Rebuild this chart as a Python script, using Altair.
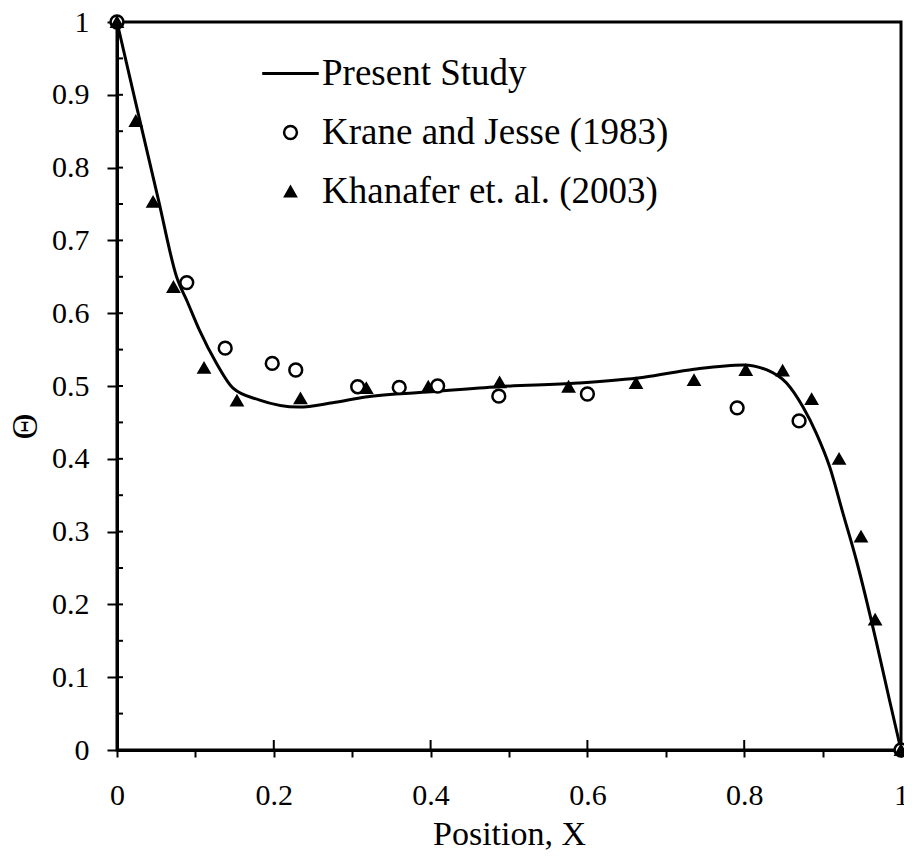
import altair as alt
import pandas as pd

# ---- data ----
curve_x = [0, 0.023, 0.053, 0.076, 0.09, 0.105, 0.127, 0.148, 0.181, 0.232, 0.275, 0.317,
           0.401, 0.486, 0.588, 0.672, 0.736, 0.799, 0.829, 0.854, 0.875, 0.892, 0.909,
           0.926, 0.943, 0.968, 0.985, 1.0]
curve_y = [1, 0.893, 0.755, 0.650, 0.615, 0.577, 0.531, 0.497, 0.481, 0.471, 0.477, 0.485,
           0.492, 0.499, 0.504, 0.512, 0.523, 0.529, 0.522, 0.504, 0.471, 0.435, 0.389,
           0.325, 0.261, 0.151, 0.07, 0]

krane_x = [0, 0.089, 0.138, 0.198, 0.228, 0.307, 0.360, 0.409, 0.487, 0.600, 0.791, 0.870, 1.0]
krane_y = [1, 0.642, 0.552, 0.531, 0.522, 0.499, 0.498, 0.500, 0.486, 0.489, 0.470, 0.452, 0]

khan_x = [0, 0.024, 0.046, 0.072, 0.111, 0.153, 0.234, 0.318, 0.397, 0.488, 0.576, 0.662,
          0.736, 0.802, 0.849, 0.886, 0.921, 0.949, 0.967, 1.0]
khan_y = [1, 0.864, 0.753, 0.636, 0.525, 0.480, 0.483, 0.497, 0.499, 0.505, 0.499, 0.504,
          0.508, 0.522, 0.521, 0.482, 0.400, 0.293, 0.179, 0]

series_names = ["Present Study", "Krane and Jesse (1983)", "Khanafer et. al. (2003)"]

x_ticks = [0, 0.1, 0.2, 0.3, 0.4, 0.5, 0.6, 0.7, 0.8, 0.9, 1]
y_ticks = [0, 0.1, 0.2, 0.3, 0.4, 0.5, 0.6, 0.7, 0.8, 0.9, 1]
y_inner_ticks = [0.05, 0.1, 0.15, 0.2, 0.25, 0.3, 0.35, 0.4, 0.45, 0.5, 0.55, 0.6, 0.65,
                 0.7, 0.75, 0.8, 0.85, 0.9, 0.95]
x_inner_ticks = [0.2, 0.4, 0.6, 0.8]

# ---- tables ----
curve_df = pd.DataFrame({"x": curve_x, "y": curve_y})
pts_df = pd.concat([
    pd.DataFrame({"x": krane_x, "y": krane_y, "series": series_names[1]}),
    pd.DataFrame({"x": khan_x, "y": khan_y, "series": series_names[2]}),
], ignore_index=True)
yin_df = pd.DataFrame({"v": y_inner_ticks})
xin_df = pd.DataFrame({"v": x_inner_ticks})

W, H = 784, 728
FONT = "Liberation Serif"

xscale = alt.Scale(domain=[0, 1], nice=False, zero=False)
yscale = alt.Scale(domain=[0, 1], nice=False, zero=False)

x_axis = alt.Axis(
    values=x_ticks, format="~g", grid=False,
    labelExpr="round(datum.value*10) % 2 == 0 ? datum.label : ''",
    tickSize=7, tickWidth=2, tickColor="black",
    domainColor="black", domainWidth=3,
    labelFont=FONT, labelFontSize=30, labelColor="black", labelPadding=23,
    labelFlush=False, labelOverlap=False,
    title="Position, X", titleFont=FONT, titleFontSize=34, titleFontWeight="normal",
    titleColor="black", titleBaseline="middle", titleY=84,
)
y_axis = alt.Axis(
    values=y_ticks, format="~g", grid=False,
    tickSize=10, tickWidth=2, tickColor="black",
    domainColor="black", domainWidth=3,
    labelFont=FONT, labelFontSize=30, labelColor="black", labelPadding=18,
    labelFlush=False, labelOverlap=False,
    title="Θ", titleFont=FONT, titleFontSize=36, titleFontWeight="normal",
    titleColor="black", titleAlign="center", titleBaseline="middle",
    titleX=-92, titleY=404, titleAngle=270,
)

line = alt.Chart(curve_df).mark_line(color="black", strokeWidth=3, interpolate="monotone").encode(
    x=alt.X("x:Q", scale=xscale, axis=x_axis),
    y=alt.Y("y:Q", scale=yscale, axis=y_axis),
)

legend = alt.Legend(
    orient="none", legendX=155, legendY=33, title=None,
    labelFont=FONT, labelFontSize=37, labelColor="black", labelLimit=600,
    labelOffset=13, rowPadding=21, symbolStrokeColor="black",
)

points = alt.Chart(pts_df).mark_point(opacity=1).encode(
    x=alt.X("x:Q", scale=xscale, axis=x_axis),
    y=alt.Y("y:Q", scale=yscale, axis=y_axis),
    shape=alt.Shape("series:N", scale=alt.Scale(domain=series_names,
                    range=["M-4,0H4", "circle", "triangle-up"]), legend=legend),
    fill=alt.Fill("series:N", scale=alt.Scale(domain=series_names,
                  range=["transparent", "white", "black"]), legend=legend),
    stroke=alt.Stroke("series:N", scale=alt.Scale(domain=series_names,
                      range=["black", "black", "black"]), legend=legend),
    size=alt.Size("series:N", scale=alt.Scale(domain=series_names,
                  range=[200, 128, 225]), legend=legend),
    strokeWidth=alt.StrokeWidth("series:N", scale=alt.Scale(domain=series_names,
                                range=[3, 2, 0.5]), legend=legend),
)

y_inner = alt.Chart(yin_df).mark_rule(color="black", strokeWidth=2).encode(
    y=alt.Y("v:Q", scale=yscale, axis=y_axis),
    x=alt.value(0), x2=alt.value(6),
)
x_inner = alt.Chart(xin_df).mark_rule(color="black", strokeWidth=2).encode(
    x=alt.X("v:Q", scale=xscale, axis=x_axis),
    y=alt.value(H), y2=alt.value(H - 10),
)

chart = alt.layer(line, y_inner, x_inner, points).properties(
    width=W, height=H,
    autosize=alt.AutoSizeParams(type="none"),
    padding={"left": 109, "top": 14, "right": 3, "bottom": 100},
    background="white",
).configure_view(stroke="black", strokeWidth=3)

chart.save("out.html", embed_options={"renderer": "svg", "actions": False})
